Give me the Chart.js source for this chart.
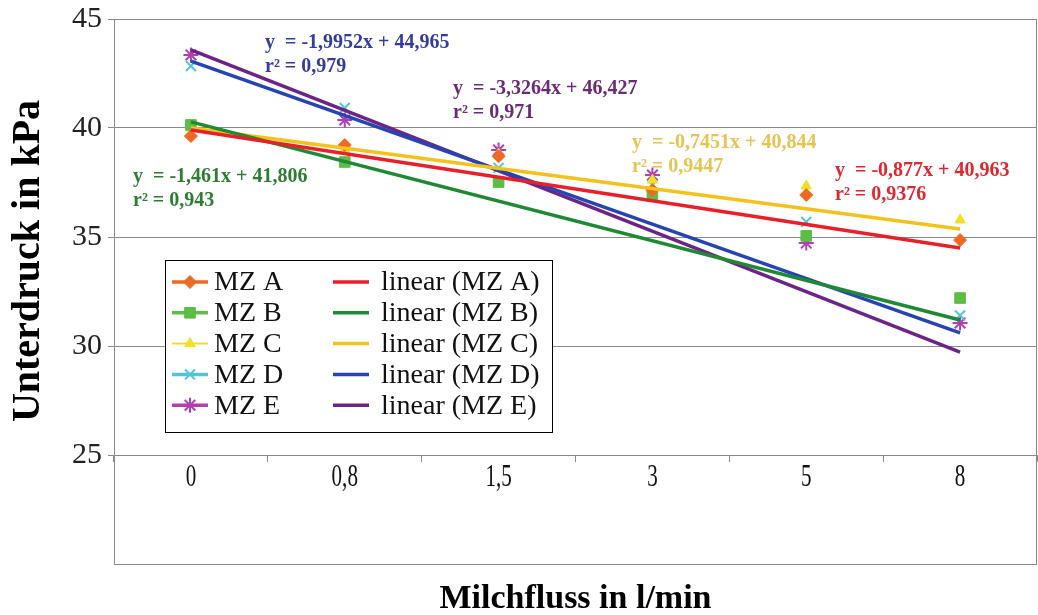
<!DOCTYPE html>
<html>
<head>
<meta charset="utf-8">
<script src="https://cdn.jsdelivr.net/npm/chart.js@4"></script>
<style>
  body { margin: 0; background: #fff; }
  canvas { display: block; }
</style>
</head>
<body>
<canvas id="myChart" width="1038" height="615"></canvas>
<script>
categories = ['0', '0,8', '1,5', '3', '5', '8']

// measured vacuum per milking unit
mzA = [39.63, 39.22, 38.70, 37.15, 36.93, 34.86]
mzB = [40.14, 38.44, 37.52, 36.88, 35.05, 32.20]
mzC = [40.00, 38.99, 38.80, 37.61, 37.34, 35.78]
mzD = [42.84, 40.92, 38.17, 37.39, 35.69, 31.40]
mzE = [43.35, 40.37, 38.99, 37.84, 34.72, 31.06]

// trend lines: value at first and last flow step
trendA = [39.91, 34.50]
trendB = [40.28, 31.19]
trendC = [40.00, 35.37]
trendD = [43.07, 30.60]
trendE = [43.58, 29.72]

yTicks = [20, 25, 30, 35, 40, 45]

equations = [
    { lines: ['y  = -1,9952x + 44,965', 'r² = 0,979'], color: '#353d9c', x: 265, y: 43 },
    { lines: ['y  = -3,3264x + 46,427', 'r² = 0,971'], color: '#6b2b76', x: 453, y: 89 },
    { lines: ['y  = -1,461x + 41,806', 'r² = 0,943'], color: '#2e7d34', x: 133, y: 177 },
    { lines: ['y  = -0,7451x + 40,844', 'r² = 0,9447'], color: '#e6c452', x: 632, y: 143 },
    { lines: ['y  = -0,877x + 40,963', 'r² = 0,9376'], color: '#e0262e', x: 835, y: 171 }
]

function trend(label, vals, color) {
    return {
        label: label,
        data: [
            { x: categories[0], y: vals[0] },
            { x: categories[categories.length - 1], y: vals[1] }
        ],
        borderColor: color,
        backgroundColor: color,
        borderWidth: 3.5,
        pointRadius: 0,
        order: 0
    }
}

function series(label, vals, color, style, radius, bw) {
    return {
        label: label,
        data: vals,
        showLine: false,
        borderColor: color,
        backgroundColor: color,
        pointStyle: style,
        pointRadius: radius,
        pointBorderWidth: bw,
        pointBackgroundColor: color,
        pointBorderColor: color,
        order: 1
    }
}

dataSets = [
    series('MZ A', mzA, '#ee6a22', 'rectRot', 6.5, 1),
    series('MZ B', mzB, '#5cbd47', 'rect', 7.5, 1),
    series('MZ C', mzC, '#f0e024', 'triangle', 6, 1),
    series('MZ D', mzD, '#4fc6d8', 'crossRot', 7, 2),
    series('MZ E', mzE, '#b23fb3', 'star', 7.5, 2),
    trend('linear (MZ A)', trendA, '#e8202a'),
    trend('linear (MZ B)', trendB, '#1f8a33'),
    trend('linear (MZ C)', trendC, '#f4c21c'),
    trend('linear (MZ D)', trendD, '#2644b2'),
    trend('linear (MZ E)', trendE, '#6c2486')
]

// frame around the plot area
const frame = {
    id: 'frame',
    afterDraw(chart) {
        const { ctx, chartArea } = chart
        ctx.save()
        ctx.strokeStyle = '#8a8a8a'
        ctx.lineWidth = 1
        ctx.strokeRect(chartArea.left + 0.5, chartArea.top + 0.5,
            chartArea.right - chartArea.left - 1, chartArea.bottom - chartArea.top)
        ctx.restore()
    }
}

// trendline equations, under the markers
const eqLabels = {
    id: 'eqLabels',
    beforeDatasetsDraw(chart) {
        const ctx = chart.ctx
        ctx.save()
        ctx.font = 'bold 20px "Liberation Serif"'
        ctx.textBaseline = 'middle'
        ctx.textAlign = 'left'
        equations.forEach(eq => {
            ctx.fillStyle = eq.color
            eq.lines.forEach((t, i) => ctx.fillText(t, eq.x, eq.y + i * 24))
        })
        ctx.restore()
    }
}

// narrow category labels under the 25 line, plus both axis titles
const axisText = {
    id: 'axisText',
    afterDraw(chart) {
        const { ctx, chartArea } = chart
        const xs = chart.scales.x
        const ys = chart.scales.y
        const base = ys.getPixelForValue(25)
        ctx.save()
        ctx.fillStyle = '#111'
        ctx.font = '31px "Liberation Serif"'
        ctx.textAlign = 'center'
        ctx.textBaseline = 'middle'
        categories.forEach((c, i) => {
            ctx.save()
            ctx.translate(xs.getPixelForValue(i), base + 23)
            ctx.scale(0.68, 1)
            ctx.fillText(c, 0, 0)
            ctx.restore()
        })

        ctx.fillStyle = '#000'
        ctx.font = 'bold 34px "Liberation Serif"'
        ctx.fillText('Milchfluss in l/min', (chartArea.left + chartArea.right) / 2, 599)

        ctx.translate(29, 261)
        ctx.rotate(-Math.PI / 2)
        ctx.font = 'bold 40px "Liberation Serif"'
        ctx.fillText('Unterdruck in kPa', 0, 0)
        ctx.restore()
    }
}

// two-column legend box inside the plot
const boxLegend = {
    id: 'boxLegend',
    afterDatasetsDraw(chart) {
        const { ctx, chartArea } = chart
        const left = chartArea.left + 51
        const top = chartArea.top + 241
        ctx.save()
        ctx.fillStyle = '#fff'
        ctx.fillRect(left, top, 387, 172)
        ctx.strokeStyle = '#000'
        ctx.lineWidth = 1
        ctx.strokeRect(left + 0.5, top + 0.5, 387, 172)
        ctx.font = '28px "Liberation Serif"'
        ctx.textBaseline = 'middle'
        ctx.textAlign = 'left'
        chart.data.datasets.forEach((ds, i) => {
            const col = i < 5 ? 0 : 1
            const y = top + 22 + (i % 5) * 30.8
            const x0 = left + (col ? 168 : 7)
            ctx.strokeStyle = ds.borderColor
            ctx.lineWidth = col ? 3.5 : (i == 2 ? 2 : 3.5)
            ctx.beginPath()
            ctx.moveTo(x0, y)
            ctx.lineTo(x0 + 36, y)
            ctx.stroke()
            if (!col) {
                ctx.fillStyle = ds.pointBackgroundColor
                ctx.strokeStyle = ds.pointBorderColor
                ctx.lineWidth = ds.pointBorderWidth
                Chart.helpers.drawPoint(ctx, {
                    pointStyle: ds.pointStyle,
                    radius: ds.pointRadius,
                    borderWidth: ds.pointBorderWidth,
                    rotation: 0
                }, x0 + 18, y)
            }
            ctx.fillStyle = '#111'
            ctx.fillText(ds.label, x0 + (col ? 48 : 42), y + 1)
        })
        ctx.restore()
    }
}

function noPad(s) {
    s.paddingLeft = 0
    s.paddingRight = 0
    s.paddingTop = 0
    s.paddingBottom = 0
}

function makeGraph() {
    const ctx = document.getElementById('myChart')
    new Chart(ctx, {
        type: 'line',
        data: {
            labels: categories,
            datasets: dataSets
        },
        plugins: [frame, eqLabels, boxLegend, axisText],
        options: {
            responsive: false,
            animation: false,
            layout: {
                autoPadding: false,
                padding: { top: 19, right: 1, bottom: 51, left: 0 }
            },
            scales: {
                x: {
                    type: 'category',
                    offset: true,
                    position: { y: 25 },
                    afterFit: noPad,
                    grid: {
                        display: true,
                        offset: true,
                        drawOnChartArea: false,
                        drawTicks: true,
                        tickLength: 6,
                        color: '#8a8a8a'
                    },
                    border: { display: true, color: '#8a8a8a', width: 1 },
                    ticks: { display: false }
                },
                y: {
                    min: yTicks[0],
                    max: yTicks[yTicks.length - 1],
                    afterBuildTicks: s => { s.ticks = yTicks.map(v => ({ value: v })) },
                    afterFit: s => { noPad(s); s.width = 114 },
                    grid: {
                        color: c => (c.tick && c.tick.value === yTicks[0]) ? 'rgba(0,0,0,0)' : '#8a8a8a',
                        tickLength: 6
                    },
                    border: { display: true, color: '#8a8a8a' },
                    ticks: {
                        padding: 6,
                        color: '#222',
                        font: { family: 'Liberation Serif', size: 30 },
                        callback: v => v === yTicks[0] ? '' : v
                    }
                }
            },
            plugins: {
                legend: { display: false },
                tooltip: { enabled: false }
            }
        }
    })
}

makeGraph()
</script>
</body>
</html>
